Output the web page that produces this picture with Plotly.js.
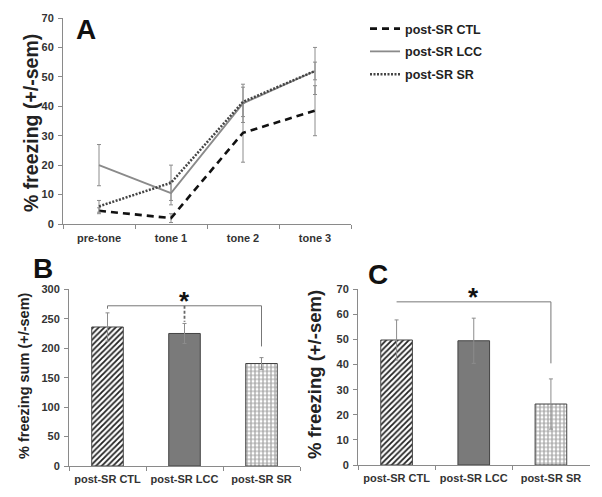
<!DOCTYPE html>
<html>
<head>
<meta charset="utf-8">
<script src="https://cdn.plot.ly/plotly-3.0.1.min.js"></script>
<style>html,body{margin:0;padding:0;background:#fff;}#chart{width:602px;height:497px;}</style>
</head>
<body>
<div id="chart"></div>
<script>
// Panel A data
const phases = ["pre-tone", "tone 1", "tone 2", "tone 3"];
const ctlMean = [4.5, 2, 31, 38.5];
const ctlSem  = [1, 1.5, 10, 8.5];
const lccMean = [20, 10.5, 41, 52];
const lccSem  = [7, 4, 6.5, 8];
const srMean  = [6, 14, 41.5, 52];
const srSem   = [2, 6, 5, 3];
const seriesNames = ["post-SR CTL", "post-SR LCC", "post-SR SR"];

// Panel B data
const groups = ["post-SR CTL", "post-SR LCC", "post-SR SR"];
const sumMean = [236, 225, 174];
const sumSem  = [24, 17, 10];
const sumBracketY = 272;
const sumBracketDrop = 203;
const sumBracketMid = 245;

// Panel C data
const frzMean = [49.8, 49.5, 24.3];
const frzSem  = [8, 9, 10];
const frzBracketY = 65;
const frzBracketDrop = 40.5;

// Titles
const titleA = "% freezing (+/-sem)";
const titleB = "% freezing sum (+/-sem)";
const titleC = "% freezing (+/-sem)";

const FONT = "Liberation Sans, Arial, sans-serif";
const tickFont = {family: FONT, size: 11, color: "#333", weight: "bold"};
const axisCol = "#8a8a8a";

function errY(arr){ return {type:"data", array: arr, visible:true, color:"#8c8c8c", thickness:1, width:2}; }

const barStyles = [
  {color:"#fff", pattern:{shape:"/", fgcolor:"#222", bgcolor:"#fff", size:4, solidity:0.45}},
  {color:"#7a7a7a"},
  {color:"#fff", pattern:{shape:"+", fgcolor:"#a0a0a0", bgcolor:"#fff", size:4, solidity:0.5}}
];

const traces = [
  {x: phases, y: ctlMean, name: seriesNames[0], legendgroup:"g1", type:"scatter", mode:"lines",
   line:{color:"#111", width:2.6, dash:"7px,5px"}, error_y: errY(ctlSem), xaxis:"x", yaxis:"y"},
  {x: phases, y: lccMean, name: seriesNames[1], legendgroup:"g2", type:"scatter", mode:"lines",
   line:{color:"#8a8a8a", width:1.8}, error_y: errY(lccSem), xaxis:"x", yaxis:"y"},
  {x: phases, y: srMean, name: seriesNames[2], legendgroup:"g3", type:"scatter", mode:"lines",
   line:{color:"#444", width:2.5, dash:"2px,1.5px"}, error_y: errY(srSem), xaxis:"x", yaxis:"y"}
];

function addBars(means, sems, xa, ya){
  for (let i = 0; i < groups.length; i++){
    const st = barStyles[i];
    const marker = {color: st.color, line:{color:"#444", width:1}};
    if (st.pattern) marker.pattern = st.pattern;
    traces.push({x:[groups[i]], y:[means[i]], type:"bar", showlegend:false, width:0.41,
      marker: marker, error_y: errY([sems[i]]), xaxis: xa, yaxis: ya});
  }
}
addBars(sumMean, sumSem, "x2", "y2");
addBars(frzMean, frzSem, "x3", "y3");

function yax(domain, range, dtick, anchor){
  return {domain: domain, range: range, dtick: dtick, anchor: anchor, showgrid:false, zeroline:false,
    showline:true, linecolor:axisCol, linewidth:1, ticks:"outside", ticklen:4, tickcolor:axisCol,
    tickfont: tickFont, fixedrange:true, ticklabelstandoff:2};
}
function xax(domain, anchor, range, standoff){
  return {domain: domain, anchor: anchor, type:"category", range: range, showgrid:false, zeroline:false,
    showline:true, linecolor:axisCol, linewidth:1, ticks:"outside", ticklen:4, tickcolor:axisCol,
    tickson:"boundaries", tickfont: tickFont, fixedrange:true, ticklabelstandoff: standoff};
}

const W = 602, H = 497;
const px = v => v / W, py = v => 1 - v / H;

function ytitle(text, x, y, size){
  return {text: text, xref:"paper", yref:"paper", x: px(x), y: py(y), xanchor:"center", yanchor:"middle",
    textangle:-90, showarrow:false, font:{family:FONT, size:size, color:"#222", weight:"bold"}};
}

const layout = {
  width: W, height: H, margin:{l:0, r:0, t:0, b:0}, paper_bgcolor:"#fff", plot_bgcolor:"rgba(0,0,0,0)",
  font:{family: FONT, color:"#333"}, barmode:"overlay",
  xaxis: xax([px(63), px(351)], "y", [-0.5, 3.5], 4),
  yaxis: yax([py(224), py(18)], [0, 70], 10, "x"),
  xaxis2: xax([px(69), px(300)], "y2", [-0.5, 2.5], 3),
  yaxis2: yax([py(466), py(289.3)], [0, 300], 50, "x2"),
  xaxis3: xax([px(358), px(589.5)], "y3", [-0.5, 2.5], 3),
  yaxis3: yax([py(465), py(289.3)], [0, 70], 10, "x3"),
  showlegend: true,
  legend:{x: px(365), y: py(14), xanchor:"left", yanchor:"top", bgcolor:"rgba(0,0,0,0)",
    font:{family:FONT, size:12.5, color:"#222", weight:"bold"}, itemwidth:30,
    traceorder:"grouped", tracegroupgap:3.5},
  annotations:[
    ytitle(titleA, 31, 123, 19.5),
    ytitle(titleB, 24, 376, 14.5),
    ytitle(titleC, 314, 375, 18.5),
    {text:"<b>A</b>", xref:"paper", yref:"paper", x:px(86), y:py(30), xanchor:"center", yanchor:"middle", showarrow:false, font:{family:FONT, size:28, color:"#111"}},
    {text:"<b>B</b>", xref:"paper", yref:"paper", x:px(43), y:py(268), xanchor:"center", yanchor:"middle", showarrow:false, font:{family:FONT, size:28, color:"#111"}},
    {text:"<b>C</b>", xref:"paper", yref:"paper", x:px(378), y:py(274), xanchor:"center", yanchor:"middle", showarrow:false, font:{family:FONT, size:28, color:"#111"}},
    {text:"<b>*</b>", xref:"x2", yref:"y2", x:groups[1], y:sumBracketY, yanchor:"bottom", yshift:-12, showarrow:false, font:{family:FONT, size:26, color:"#111"}},
    {text:"<b>*</b>", xref:"x3", yref:"y3", x:groups[1], y:frzBracketY, yanchor:"bottom", yshift:-12, showarrow:false, font:{family:FONT, size:26, color:"#111"}}
  ],
  shapes:[
    {type:"line", xref:"x2", yref:"y2", x0:0, x1:2, y0:sumBracketY, y1:sumBracketY, line:{color:"#777", width:1}},
    {type:"line", xref:"x2", yref:"y2", x0:2, x1:2, y0:sumBracketY, y1:sumBracketDrop, line:{color:"#777", width:1}},
    {type:"line", xref:"x2", yref:"y2", x0:0, x1:0, y0:sumBracketY, y1:sumBracketY - 5, line:{color:"#777", width:1}},
    {type:"line", xref:"x2", yref:"y2", x0:1, x1:1, y0:sumBracketY, y1:sumBracketMid, line:{color:"#666", width:1.8, dash:"3px,2px"}},
    {type:"line", xref:"x3", yref:"y3", x0:0, x1:2, y0:frzBracketY, y1:frzBracketY, line:{color:"#777", width:1}},
    {type:"line", xref:"x3", yref:"y3", x0:2, x1:2, y0:frzBracketY, y1:frzBracketDrop, line:{color:"#777", width:1}}
  ]
};

Plotly.newPlot("chart", traces, layout, {staticPlot:true, displayModeBar:false});
</script>
</body>
</html>
